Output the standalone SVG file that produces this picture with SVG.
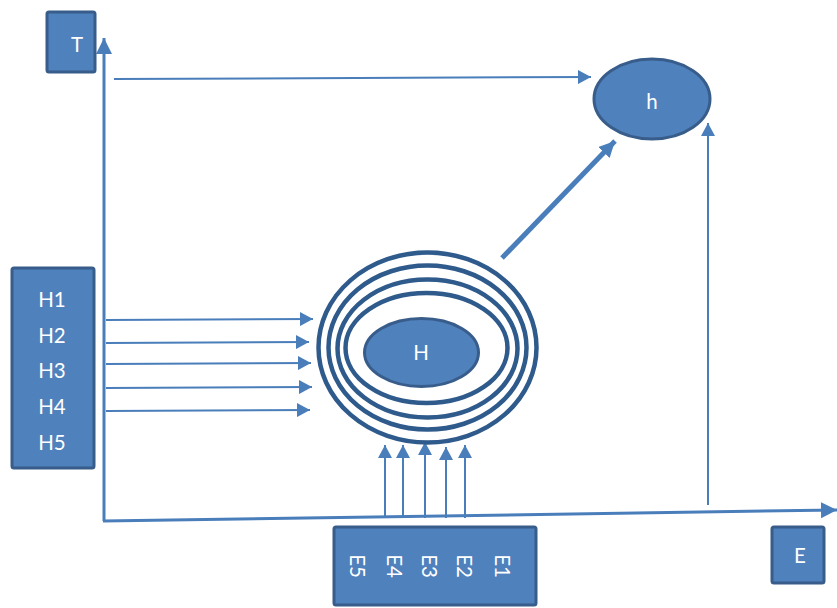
<svg xmlns="http://www.w3.org/2000/svg" width="837" height="608" viewBox="0 0 837 608">
  <style>
    .box { fill: #4F81BD; stroke: #385D8A; stroke-width: 3; }
    .ring { fill: none; stroke: #2F5A8C; stroke-width: 4.5; }
    .lbl { fill: #FFFFFF; font-family: Lato, "Open Sans", "Liberation Sans", sans-serif; font-size: 20.5px; text-anchor: middle; }
    .ln { stroke: #4A7EBB; fill: none; }
  </style>
  <defs>
    <marker id="ah" markerUnits="userSpaceOnUse" markerWidth="14" markerHeight="14" refX="13" refY="7" orient="auto">
      <path d="M0,0 L13,7 L0,14 z" fill="#4A7EBB"/>
    </marker>
    <marker id="ahBig" markerUnits="userSpaceOnUse" markerWidth="18" markerHeight="18" refX="16" refY="8" orient="auto">
      <path d="M0,0 L16,8 L0,16 z" fill="#4A7EBB"/>
    </marker>
  </defs>

  <rect width="837" height="608" fill="#FFFFFF"/>

  <!-- connectors -->
  <g id="connectors">
    <!-- axes -->
    <line class="ln" x1="104" y1="521" x2="104" y2="38" stroke-width="3" marker-end="url(#ahBig)"/>
    <line class="ln" x1="103" y1="521" x2="837" y2="510" stroke-width="3" marker-end="url(#ahBig)"/>
    <!-- T to h -->
    <line class="ln" x1="114" y1="79" x2="591" y2="77" stroke-width="2" marker-end="url(#ah)"/>
    <!-- E axis to h -->
    <line class="ln" x1="708" y1="505" x2="708" y2="123" stroke-width="2" marker-end="url(#ah)"/>
    <!-- H to h -->
    <line class="ln" x1="502" y1="258" x2="615" y2="141" stroke-width="5" marker-end="url(#ahBig)"/>
    <!-- H1..H5 inputs -->
    <line class="ln" x1="106" y1="320" x2="313" y2="319" stroke-width="2" marker-end="url(#ah)"/>
    <line class="ln" x1="106" y1="343" x2="309" y2="342" stroke-width="2" marker-end="url(#ah)"/>
    <line class="ln" x1="106" y1="364" x2="311" y2="363" stroke-width="2" marker-end="url(#ah)"/>
    <line class="ln" x1="106" y1="388" x2="312" y2="387" stroke-width="2" marker-end="url(#ah)"/>
    <line class="ln" x1="106" y1="411" x2="310" y2="410" stroke-width="2" marker-end="url(#ah)"/>
    <!-- E1..E5 inputs -->
    <line class="ln" x1="385" y1="518" x2="385" y2="445" stroke-width="2" marker-end="url(#ah)"/>
    <line class="ln" x1="403" y1="518" x2="403" y2="445" stroke-width="2" marker-end="url(#ah)"/>
    <line class="ln" x1="425" y1="518" x2="425" y2="442" stroke-width="2" marker-end="url(#ah)"/>
    <line class="ln" x1="446" y1="518" x2="446" y2="447" stroke-width="2" marker-end="url(#ah)"/>
    <line class="ln" x1="465" y1="518" x2="465" y2="445" stroke-width="2" marker-end="url(#ah)"/>
  </g>

  <!-- axis labels -->
  <g id="T">
    <rect class="box" x="47" y="12" width="48" height="60" rx="2"/>
    <text class="lbl" x="77" y="52">T</text>
  </g>
  <g id="E">
    <rect class="box" x="772" y="527" width="52" height="56" rx="2"/>
    <text class="lbl" x="800" y="563">E</text>
  </g>

  <!-- output node -->
  <g id="h">
    <ellipse class="box" cx="652" cy="99" rx="58" ry="40"/>
    <text class="lbl" x="652" y="109">h</text>
  </g>

  <!-- central node with surrounding rings -->
  <g id="H">
    <ellipse class="ring" cx="427.5" cy="347.5" rx="109" ry="95"/>
    <ellipse class="ring" cx="427.5" cy="347.5" rx="99" ry="82"/>
    <ellipse class="ring" cx="427.5" cy="348.5" rx="90" ry="69"/>
    <ellipse class="ring" cx="426.5" cy="348" rx="81" ry="55"/>
    <ellipse class="box" cx="421.5" cy="352.5" rx="57" ry="34"/>
    <text class="lbl" x="421" y="360">H</text>
  </g>

  <!-- H inputs box -->
  <g id="Hbox">
    <rect class="box" x="12" y="268" width="82" height="200" rx="2"/>
    <text class="lbl" x="52" y="307">H1</text>
    <text class="lbl" x="52" y="343">H2</text>
    <text class="lbl" x="52" y="378">H3</text>
    <text class="lbl" x="52" y="414">H4</text>
    <text class="lbl" x="52" y="450">H5</text>
  </g>

  <!-- E inputs box -->
  <g id="Ebox">
    <rect class="box" x="334" y="527" width="202" height="78" rx="2"/>
    <text class="lbl" transform="translate(350,566) rotate(90)">E5</text>
    <text class="lbl" transform="translate(387,566) rotate(90)">E4</text>
    <text class="lbl" transform="translate(422,566) rotate(90)">E3</text>
    <text class="lbl" transform="translate(457,566) rotate(90)">E2</text>
    <text class="lbl" transform="translate(495,566) rotate(90)">E1</text>
  </g>
</svg>
